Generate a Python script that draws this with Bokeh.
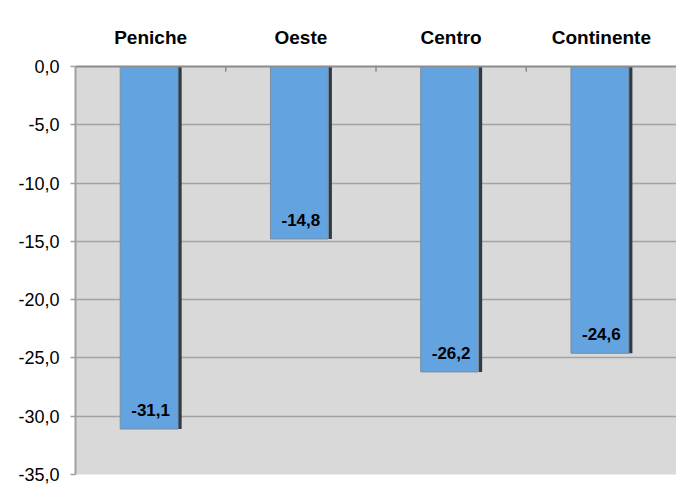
from bokeh.plotting import figure
from bokeh.models import (ColumnDataSource, FactorRange, Range1d, FixedTicker,
                          CustomJSTickFormatter, Label)
from bokeh.transform import dodge
from bokeh.core.properties import value
from bokeh.embed import file_html
from bokeh.resources import INLINE

categories = ["Peniche", "Oeste", "Centro", "Continente"]
values = [-31.1, -14.8, -26.2, -24.6]
y_ticks = [0, -5, -10, -15, -20, -25, -30, -35]

labels = [f"{v:.1f}".replace(".", ",") for v in values]
FONT = "Liberation Sans"

p = figure(
    x_range=FactorRange(*categories, range_padding=0),
    y_range=Range1d(-35, 0),
    width=676, height=484,
    output_backend="svg", toolbar_location=None,
    x_axis_location="above",
    min_border_left=75, min_border_top=66, min_border_right=0, min_border_bottom=10,
)
p.background_fill_color = "#D9D9D9"
p.border_fill_color = "white"
p.outline_line_color = None

# outer chart border (only top and left edges are visible in the reference)
p.add_layout(Label(x=9, y=13, x_units="canvas", y_units="canvas", text=" ",
                   text_font_size="1px", anchor="top_left", padding=(0, 800, 600, 0),
                   border_line_color="#8f8f8f", border_line_width=1.5,
                   background_fill_color=None, level="underlay"))

# grid
p.xgrid.grid_line_color = None
p.ygrid.ticker = FixedTicker(ticks=y_ticks)
p.ygrid.grid_line_color = "#a3a3a3"
p.ygrid.grid_line_width = 1.5

# y axis
p.yaxis.ticker = FixedTicker(ticks=y_ticks)
p.yaxis.formatter = CustomJSTickFormatter(code="return tick.toFixed(1).replace('.', ',');")
p.yaxis.major_label_text_font = FONT
p.yaxis.major_label_text_font_size = "18px"
p.yaxis.major_label_text_color = "black"
p.yaxis.axis_line_color = "#a0a0a0"
p.yaxis.axis_line_width = 2
p.yaxis.major_tick_line_color = "#a0a0a0"
p.yaxis.major_tick_line_width = 1.5
p.yaxis.major_tick_out = 5
p.yaxis.major_tick_in = 0
p.yaxis.minor_tick_line_color = None
p.yaxis.major_label_standoff = 11

# x axis (top)
p.xaxis.major_label_text_font = FONT
p.xaxis.major_label_text_font_style = "bold"
p.xaxis.major_label_text_font_size = "19px"
p.xaxis.major_label_text_color = "black"
p.xaxis.axis_line_color = "#8c8c8c"
p.xaxis.axis_line_width = 2
p.xaxis.major_tick_line_color = None
p.xaxis.major_label_standoff = 13

src = ColumnDataSource(dict(cat=categories, val=values, lab=labels))
tick_src = ColumnDataSource(dict(cat=categories[:-1]))

# boundary tick marks on the top axis
p.segment(x0=dodge("cat", 0.5, range=p.x_range), x1=dodge("cat", 0.5, range=p.x_range),
          y0=0, y1=-0.45, source=tick_src, line_color="#8c8c8c", line_width=1.5)

# bar shadow
p.vbar(x=dodge("cat", 0.014, range=p.x_range), top=0, bottom="val", width=0.385,
       source=src, fill_color="#2e3a46", line_color=None)
# bars
p.vbar(x=dodge("cat", -0.01, range=p.x_range), top=0, bottom="val", width=0.385,
       source=src, fill_color="#63A3E0", line_color="#7d8fa0", line_width=1)

# data labels
p.text(x="cat", y="val", text="lab", source=src, y_offset=-19,
       text_align="center", text_baseline="middle",
       text_font=value(FONT), text_font_style="bold", text_font_size="17px",
       text_color="black")

open("out.html", "w").write(file_html(p, INLINE))
